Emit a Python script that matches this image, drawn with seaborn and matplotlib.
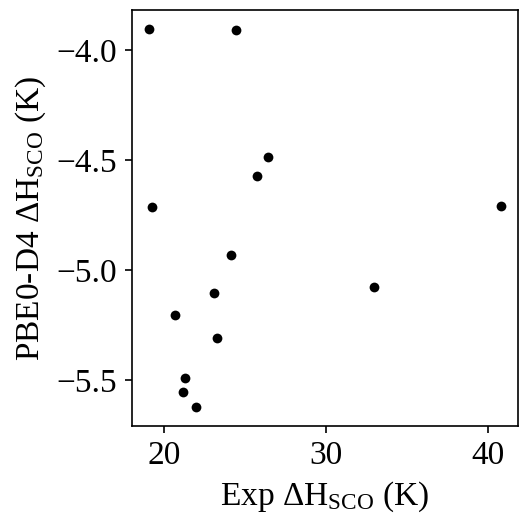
import matplotlib
matplotlib.use("Agg")
import matplotlib.pyplot as plt
import seaborn as sns
import pandas as pd

exp_dh = [19.07, 24.42, 26.40, 25.70, 19.23, 24.13, 23.04, 20.64, 23.23, 21.25, 21.13, 21.93, 40.80, 32.96]
pbe0_dh = [-3.904, -3.910, -4.484, -4.573, -4.712, -4.929, -5.104, -5.205, -5.308, -5.489, -5.553, -5.621, -4.710, -5.078]

df = pd.DataFrame({"exp": exp_dh, "pbe0": pbe0_dh})

sns.set_style("ticks")
plt.rcParams["font.family"] = ["Liberation Serif", "DejaVu Serif"]
plt.rcParams["mathtext.fontset"] = "custom"
plt.rcParams["mathtext.rm"] = "Liberation Serif"
plt.rcParams["mathtext.it"] = "Liberation Serif:italic"
plt.rcParams["axes.unicode_minus"] = True
for k in ["text.color", "axes.labelcolor", "xtick.color", "ytick.color", "axes.edgecolor"]:
    plt.rcParams[k] = "black"

fig = plt.figure(figsize=(3.5, 3.5), dpi=150)
ax = fig.add_axes([0.251, 0.189, 0.736, 0.792])
sns.scatterplot(data=df, x="exp", y="pbe0", ax=ax, color="black", s=22, linewidth=0)
ax.set_xlabel(r"Exp $\mathrm{\Delta}$H$_{\mathrm{SCO}}$ (K)", fontsize=16)
ax.set_ylabel(r"PBE0-D4 $\mathrm{\Delta}$H$_{\mathrm{SCO}}$ (K)", fontsize=16)
ax.set_xticks([20, 30, 40])
ax.set_yticks([-4.0, -4.5, -5.0, -5.5])
ax.tick_params(labelsize=16, width=0.8, length=3.5, color="black", labelcolor="black")
for s in ax.spines.values():
    s.set_color("black")
    s.set_linewidth(0.8)
fig.savefig("out.png", dpi=150)
